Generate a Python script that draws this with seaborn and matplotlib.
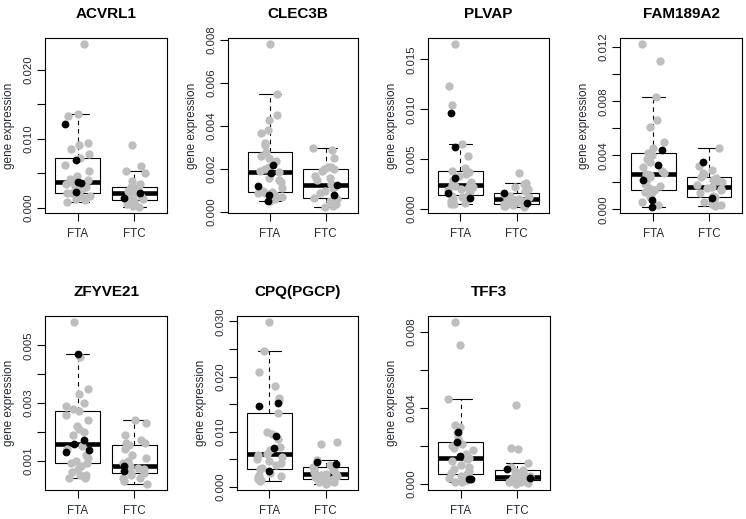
import numpy as np
import pandas as pd
import matplotlib
matplotlib.use("Agg")
import matplotlib.pyplot as plt
import seaborn as sns

# ---------------- data ----------------
genes = ["ACVRL1", "CLEC3B", "PLVAP", "FAM189A2", "ZFYVE21", "CPQ(PGCP)", "TFF3"]
groups = ["FTA", "FTC"]

acvrl1_fta_grey = [0.0009, 0.0011, 0.0013, 0.0015, 0.0017, 0.0018, 0.0020, 0.0021, 0.0022, 0.0026,
                   0.0028, 0.0030, 0.0032, 0.0034, 0.0037, 0.0040, 0.0042, 0.0046, 0.0054, 0.0062,
                   0.0072, 0.0078, 0.0086, 0.0091, 0.0094, 0.0133, 0.0136, 0.0237]
acvrl1_fta_black = [0.0023, 0.0036, 0.0038, 0.0069, 0.0122]
acvrl1_ftc_grey = [0.0002, 0.0003, 0.0005, 0.0007, 0.0009, 0.0010, 0.0012, 0.0013, 0.0017, 0.0019,
                   0.0021, 0.0024, 0.0026, 0.0027, 0.0028, 0.0030, 0.0031, 0.0034, 0.0039, 0.0051,
                   0.0054, 0.0061, 0.0091]
acvrl1_ftc_black = [0.0015, 0.0022]

clec3b_fta_grey = [0.0005, 0.0006, 0.0007, 0.0008, 0.0009, 0.0009, 0.00092, 0.0010, 0.0011, 0.0014,
                   0.0015, 0.0016, 0.00186, 0.0019, 0.0020, 0.0021, 0.0024, 0.0025, 0.0026, 0.00278,
                   0.0031, 0.0032, 0.0037, 0.0038, 0.0043, 0.0045, 0.0055, 0.0078]
clec3b_fta_black = [0.0005, 0.0008, 0.0012, 0.0018, 0.0022]
clec3b_ftc_grey = [0.00026, 0.0003, 0.0004, 0.0005, 0.0005, 0.0006, 0.00064, 0.0007, 0.0009, 0.0010,
                   0.0011, 0.0013, 0.0015, 0.0016, 0.0017, 0.0019, 0.0020, 0.0020, 0.0021, 0.0021,
                   0.0025, 0.0029, 0.0030]
clec3b_ftc_black = [0.0008, 0.00124]

plvap_fta_grey = [0.0005, 0.0005, 0.0006, 0.0008, 0.0010, 0.0012, 0.0013, 0.0014, 0.0017, 0.0019,
                  0.0020, 0.0021, 0.0022, 0.0023, 0.0024, 0.0025, 0.0027, 0.0029, 0.0033, 0.0035,
                  0.0037, 0.00384, 0.0041, 0.0053, 0.0065, 0.0104, 0.0123, 0.0165]
plvap_fta_black = [0.0011, 0.0016, 0.0031, 0.0062, 0.0096]
plvap_ftc_grey = [0.00023, 0.0003, 0.0003, 0.0004, 0.0004, 0.0005, 0.0005, 0.0007, 0.0008, 0.0009,
                  0.00095, 0.00097, 0.0010, 0.0011, 0.0012, 0.0013, 0.0015, 0.0018, 0.0020, 0.0022,
                  0.0025, 0.00264, 0.0036]
plvap_ftc_black = [0.00057, 0.00157]

fam189a2_fta_grey = [0.0003, 0.0005, 0.0009, 0.0011, 0.0013, 0.0014, 0.00145, 0.0016, 0.0017, 0.0019,
                     0.0021, 0.0024, 0.0025, 0.0026, 0.0027, 0.0028, 0.0031, 0.0035, 0.0037, 0.0040,
                     0.0042, 0.0045, 0.0050, 0.0061, 0.0066, 0.0083, 0.0110, 0.0122]
fam189a2_fta_black = [0.0002, 0.0007, 0.0022, 0.0033, 0.0044]
fam189a2_ftc_grey = [0.00027, 0.0003, 0.0004, 0.0005, 0.0006, 0.00087, 0.0010, 0.0012, 0.0014, 0.0015,
                     0.0016, 0.00163, 0.0018, 0.0020, 0.0021, 0.0022, 0.0023, 0.00242, 0.0026, 0.0027,
                     0.0029, 0.0032, 0.0045]
fam189a2_ftc_black = [0.0008, 0.0035]

zfyve21_fta_grey = [0.0004, 0.0004, 0.0005, 0.0005, 0.0006, 0.0007, 0.0008, 0.0009, 0.00093, 0.0010,
                    0.0011, 0.0012, 0.0014, 0.0015, 0.0019, 0.0020, 0.0021, 0.0022, 0.0024, 0.0026,
                    0.00271, 0.0028, 0.0029, 0.0030, 0.0033, 0.0035, 0.0046, 0.0058]
zfyve21_fta_black = [0.0013, 0.00136, 0.00158, 0.0017, 0.0047]
zfyve21_ftc_grey = [0.0002, 0.0003, 0.0004, 0.0004, 0.0005, 0.00055, 0.00057, 0.0006, 0.0007, 0.00075,
                    0.0008, 0.0009, 0.0010, 0.0011, 0.0012, 0.0014, 0.00153, 0.0016, 0.0016, 0.0017,
                    0.0019, 0.0023, 0.00242]
zfyve21_ftc_black = [0.00063, 0.0008]

cpq_fta_grey = [0.0011, 0.0012, 0.0015, 0.0018, 0.0020, 0.0022, 0.0025, 0.00317, 0.0035, 0.0040,
                0.0043, 0.0046, 0.0050, 0.0054, 0.0057, 0.0060, 0.0066, 0.0073, 0.0086, 0.0095,
                0.0099, 0.01339, 0.0158, 0.0161, 0.0183, 0.0208, 0.0247, 0.0298]
cpq_fta_black = [0.0028, 0.0071, 0.0093, 0.0146, 0.0152]
cpq_ftc_grey = [0.0006, 0.0008, 0.0009, 0.0010, 0.0012, 0.0014, 0.0015, 0.0016, 0.0018, 0.0019,
                0.0020, 0.0022, 0.00227, 0.0024, 0.0027, 0.0030, 0.0033, 0.0035, 0.00359, 0.0040,
                0.0049, 0.0077, 0.0081]
cpq_ftc_black = [0.0042, 0.0045]

tff3_fta_grey = [0.0001, 0.0001, 0.0002, 0.0003, 0.0004, 0.0005, 0.00054, 0.0006, 0.0007, 0.0008,
                 0.0009, 0.0010, 0.0012, 0.0013, 0.00135, 0.0016, 0.0018, 0.0019, 0.0020, 0.0020,
                 0.0021, 0.0024, 0.0027, 0.0030, 0.0031, 0.00446, 0.0073, 0.0085]
tff3_fta_black = [0.00024, 0.00027, 0.00145, 0.00221, 0.00275]
tff3_ftc_grey = [0.00002, 0.00005, 0.0001, 0.0001, 0.00015, 0.0002, 0.00021, 0.00025, 0.0003, 0.00032,
                 0.00035, 0.00036, 0.0004, 0.0005, 0.0006, 0.0006, 0.0007, 0.00074, 0.0009, 0.00109,
                 0.00185, 0.0019, 0.00416]
tff3_ftc_black = [0.00033, 0.00076]

# y-axis ticks and their labels (R drops labels that would overlap)
acvrl1_ticks = [0.000, 0.005, 0.010, 0.015, 0.020]
acvrl1_labels = ["0.000", "", "0.010", "", "0.020"]
clec3b_ticks = [0.000, 0.002, 0.004, 0.006, 0.008]
clec3b_labels = ["0.000", "0.002", "0.004", "0.006", "0.008"]
plvap_ticks = [0.000, 0.005, 0.010, 0.015]
plvap_labels = ["0.000", "0.005", "0.010", "0.015"]
fam189a2_ticks = [0.000, 0.002, 0.004, 0.006, 0.008, 0.010, 0.012]
fam189a2_labels = ["0.000", "", "0.004", "", "0.008", "", "0.012"]
zfyve21_ticks = [0.001, 0.002, 0.003, 0.004, 0.005]
zfyve21_labels = ["0.001", "", "0.003", "", "0.005"]
cpq_ticks = [0.000, 0.005, 0.010, 0.015, 0.020, 0.025, 0.030]
cpq_labels = ["0.000", "", "0.010", "", "0.020", "", "0.030"]
tff3_ticks = [0.000, 0.002, 0.004, 0.006, 0.008]
tff3_labels = ["0.000", "", "0.004", "", "0.008"]

fta_grey = [acvrl1_fta_grey, clec3b_fta_grey, plvap_fta_grey, fam189a2_fta_grey,
            zfyve21_fta_grey, cpq_fta_grey, tff3_fta_grey]
fta_black = [acvrl1_fta_black, clec3b_fta_black, plvap_fta_black, fam189a2_fta_black,
             zfyve21_fta_black, cpq_fta_black, tff3_fta_black]
ftc_grey = [acvrl1_ftc_grey, clec3b_ftc_grey, plvap_ftc_grey, fam189a2_ftc_grey,
            zfyve21_ftc_grey, cpq_ftc_grey, tff3_ftc_grey]
ftc_black = [acvrl1_ftc_black, clec3b_ftc_black, plvap_ftc_black, fam189a2_ftc_black,
             zfyve21_ftc_black, cpq_ftc_black, tff3_ftc_black]
ticks_all = [acvrl1_ticks, clec3b_ticks, plvap_ticks, fam189a2_ticks, zfyve21_ticks, cpq_ticks, tff3_ticks]
labels_all = [acvrl1_labels, clec3b_labels, plvap_labels, fam189a2_labels, zfyve21_labels,
              cpq_labels, tff3_labels]

rows = []
for i, gene in enumerate(genes):
    for grp, vals, shade in [("FTA", fta_grey[i], "grey"), ("FTA", fta_black[i], "black"),
                             ("FTC", ftc_grey[i], "grey"), ("FTC", ftc_black[i], "black")]:
        for v in vals:
            rows.append((gene, grp, v, shade))
df = pd.DataFrame(rows, columns=["gene", "group", "value", "shade"])

# ---------------- style ----------------
sns.set_theme(style="white")
plt.rcParams["font.family"] = ["Liberation Sans", "DejaVu Sans"]
TEXT = "#262a33"

W, H = 746, 519
fig = plt.figure(figsize=(W / 100, H / 100), dpi=100)
fig.patch.set_facecolor("white")

# axes boxes in pixels: left, top, right, bottom
boxes_px = [(45, 38, 167, 213), (228, 38, 358, 213), (428, 38, 549, 213), (620, 38, 742, 213),
            (45, 316, 167, 490), (237, 316, 358, 490), (428, 316, 550, 490)]
xlims = [(-0.58, 1.58), (-0.75, 1.58), (-0.58, 1.58), (-0.60, 1.59),
         (-0.58, 1.58), (-0.58, 1.58), (-0.58, 1.58)]

np.random.seed(7)
for i, gene in enumerate(genes):
    l, t, r, b = boxes_px[i]
    ax = fig.add_axes([l / W, 1 - b / H, (r - l) / W, (b - t) / H])
    sub = df[df["gene"] == gene]

    sns.boxplot(data=sub, x="group", y="value", order=groups, ax=ax,
                color="white", linecolor="black", linewidth=0.8, width=0.8,
                whis=1.5, showfliers=False, saturation=1,
                medianprops=dict(linewidth=3.3, color="black", solid_capstyle="butt"),
                whiskerprops=dict(linestyle=(0, (4, 3.5)), color="black"),
                capprops=dict(color="black"))
    sns.stripplot(data=sub[sub["shade"] == "grey"], x="group", y="value", order=groups, ax=ax,
                  color="#BEBEBE", jitter=0.23, size=6, linewidth=0, zorder=3)
    sns.stripplot(data=sub[sub["shade"] == "black"], x="group", y="value", order=groups, ax=ax,
                  color="black", jitter=0.23, size=5.6, linewidth=0, zorder=4)

    lo, hi = sub["value"].min(), sub["value"].max()
    rng = hi - lo
    ax.set_ylim(lo - 0.04 * rng, hi + 0.04 * rng)
    ax.set_xlim(*xlims[i])

    ax.set_yticks(ticks_all[i])
    ax.set_yticklabels(labels_all[i], rotation=90, va="center", fontsize=8.2, color=TEXT)
    ax.set_xticks([0, 1])
    ax.set_xticklabels(groups, fontsize=8.4, color=TEXT)
    ax.tick_params(axis="both", direction="out", length=5.5, width=0.8, color="black",
                   left=True, bottom=True, right=False, top=False)
    ax.tick_params(axis="y", pad=3)
    ax.tick_params(axis="x", pad=5)

    ax.set_xlabel("")
    ax.set_ylabel("gene expression", fontsize=8.5, color=TEXT, labelpad=6)
    for sp in ax.spines.values():
        sp.set_visible(True)
        sp.set_color("black")
        sp.set_linewidth(0.8)
    ax.set_facecolor("white")

    xl = xlims[i]
    ax.set_title(gene, fontsize=11, fontweight="bold", color="black",
                 x=(0.5 - xl[0]) / (xl[1] - xl[0]), pad=14.5)

fig.savefig("out.png", dpi=100, facecolor="white")
